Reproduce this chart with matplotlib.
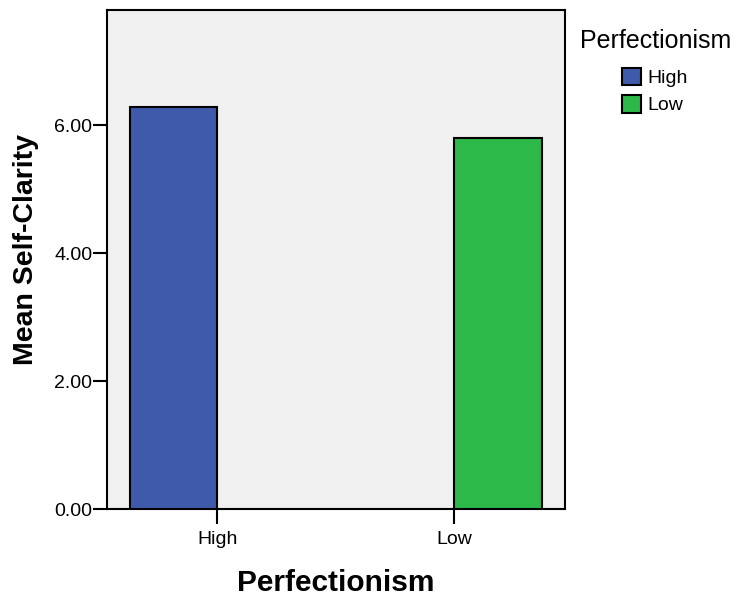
import matplotlib
matplotlib.use("Agg")
import matplotlib.pyplot as plt
import numpy as np

plt.rcParams['font.family'] = ['Liberation Sans', 'DejaVu Sans']

# data
categories = ["High", "Low"]
means = [6.29, 5.80]
colors = ['#3f59ab', '#2db84a']
yticks = [0, 2, 4, 6]

W, H = 740, 601
fig = plt.figure(figsize=(W / 100, H / 100), dpi=100)
ax = fig.add_axes([107 / W, 1 - 509 / H, (565 - 107) / W, (509 - 10) / H])
ax.set_facecolor('#f0f0f0')

x = np.arange(len(categories))
bw = 0.37
# clustered bars: High sits left of its tick, Low right of its tick
offsets = [-bw / 2, bw / 2]
for i in range(len(categories)):
    ax.bar(x[i] + offsets[i], means[i], width=bw, color=colors[i],
           edgecolor='black', linewidth=1.5, label=categories[i], zorder=3)

ax.set_xlim(-0.465, 1.468)
ax.set_ylim(0, 7.8)
ax.set_xticks(x)
ax.set_xticklabels(categories, fontsize=14)
ax.set_yticks(yticks)
ax.set_yticklabels([f"{v:.2f}" for v in yticks], fontsize=14)
ax.tick_params(axis='y', direction='out', length=10, width=1.5, pad=0.5)
ax.tick_params(axis='x', direction='out', length=11, width=1.5, pad=5)
for s in ax.spines.values():
    s.set_linewidth(1.5)

ax.set_xlabel('Perfectionism', fontsize=21.5, fontweight='bold', labelpad=15)
ax.set_ylabel('Mean Self-Clarity', fontsize=20.5, fontweight='bold')
ax.yaxis.set_label_coords(-0.149, 0.52)

# legend: title on its own, entries indented under it
fig.text(580 / W, 1 - 48 / H, 'Perfectionism', fontsize=18, ha='left', va='baseline')
leg = ax.legend(loc='upper left', bbox_to_anchor=(622 / W, 1 - 68 / H),
                bbox_transform=fig.transFigure, frameon=False, fontsize=14,
                borderpad=0, borderaxespad=0,
                handlelength=1.0, handleheight=1.0, handletextpad=0.3,
                labelspacing=0.4)
for h in leg.legend_handles:
    h.set_linewidth(1.5)

fig.savefig('out.png', dpi=100)
